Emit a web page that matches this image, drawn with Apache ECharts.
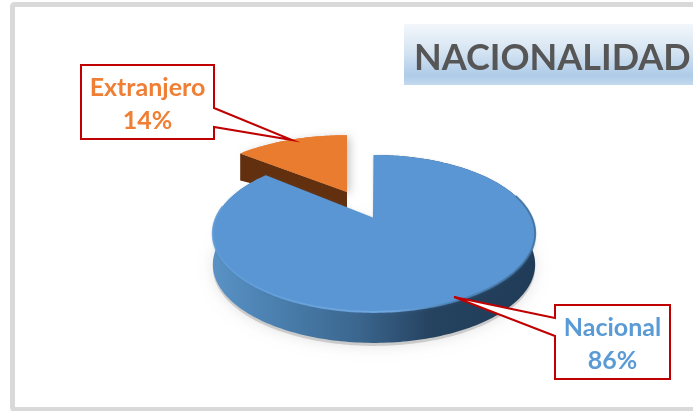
<!DOCTYPE html>
<html>
<head>
<meta charset="utf-8">
<style>html,body{margin:0;padding:0;background:#fff}#c{width:693px;height:411px}</style>
<script src="https://cdn.jsdelivr.net/npm/echarts@6/dist/echarts.min.js"></script>
</head>
<body>
<div id="c"></div>
<script>
const chartTitle = 'NACIONALIDAD';
const categories = ['Extranjero', 'Nacional'];
const values = [14, 86];
const textColors = ['#ef7f35', '#5b9bd5'];

const total = values.reduce((a, b) => a + b, 0);
const TWO_PI = Math.PI * 2;
// Angle span of each slice; the last slice starts at 12 o'clock, the first one ends there.
const spans = values.map(v => v / total * TWO_PI);
const angleRanges = [[-spans[0], 0], [0, spans[1]]];
const discs = [
  {x: 347, y: 192, f: 156, q: 68, d: 20},
  {x: 374, y: 218, f: 158, q: 75.4, d: 31}
];
const P = 0.197;

function proj(disc, t, depth) {
  const w = 1 + P * Math.cos(t);
  return [disc.x + disc.f * Math.sin(t) / w, disc.y - disc.q * Math.cos(t) / w + (depth || 0)];
}
function arc(disc, a, b, depth) {
  const n = Math.max(2, Math.ceil(Math.abs(b - a) / 0.02));
  const pts = [];
  for (let i = 0; i <= n; i++) pts.push(proj(disc, a + (b - a) * i / n, depth));
  return pts;
}
const poly = (pts, style, z2) => ({type: 'polygon', shape: {points: pts}, style, z2: z2 || 0, silent: true});
const hgrad = stops => ({type: 'linear', x: 0, y: 0, x2: 1, y2: 0,
  colorStops: stops.map(s => ({offset: s[0], color: s[1]}))});

function renderSlice(params, api) {
  const i = params.dataIndex;
  const disc = discs[i];
  const [a, b] = angleRanges[i];
  const apex = [disc.x, disc.y];
  const children = [];
  if (i === 0) {
    const corner = proj(disc, a);
    const cornerLow = proj(disc, a, disc.d * 1.35);
    children.push(poly([apex, corner].concat(arc(disc, a, b)),
      {fill: '#ea7c30', shadowBlur: 8, shadowColor: 'rgba(0,0,0,0.22)', shadowOffsetX: 3, shadowOffsetY: 2}));
    children.push(poly([apex, corner, cornerLow, [apex[0], apex[1] + disc.d * 0.8]], {fill: '#62300f'}));
    children.push(poly([apex, corner].concat(arc(disc, a, b)), {fill: '#ea7c30'}));
  } else {
    const top = arc(disc, a, b);
    const low = arc(disc, a, b, disc.d).reverse();
    // soft ground shadow, front part only so the notch stays white
    children.push(poly(arc(disc, Math.PI * 0.32, Math.PI * 1.62, disc.d + 3),
      {fill: 'rgba(120,120,120,0.3)', shadowBlur: 14, shadowColor: 'rgba(0,0,0,0.35)'}));
    children.push(poly(top.concat(low), {
      fill: hgrad([[0, '#5a92c6'], [0.2, '#4a7fae'], [0.45, '#3b668e'], [0.68, '#25425f'], [1, '#1f3b57']])
    }));
    children.push(poly([apex].concat(top), {
      fill: '#5996d3', shadowBlur: 3, shadowColor: 'rgba(60,110,160,0.5)', shadowOffsetY: 1
    }));
    children.push({
      type: 'polyline', silent: true,
      shape: {points: arc(disc, Math.PI * 0.4, Math.PI * 1.55)},
      style: {fill: 'none', lineWidth: 2, opacity: 0.85,
        stroke: hgrad([[0, '#5f9bd6'], [0.55, '#75aee6'], [0.72, '#4f86ba'], [1, '#3f6c98']])}
    });
    children.push({
      type: 'polyline', silent: true,
      shape: {points: [[apex[0] - 0.5, apex[1]], proj(disc, 0)]},
      style: {fill: 'none', lineWidth: 1, stroke: '#5a93c9'}
    });
  }
  return {type: 'group', children};
}

const callouts = [
  {box: [81, 65, 133, 74], pts: [[214, 108], [292, 140], [214, 127]], text: [147.5, 104]},
  {box: [555, 305, 115, 74], pts: [[555, 318], [454, 297], [555, 336]], text: [612.5, 344.5]}
];

function renderCallout(params, api) {
  const i = params.dataIndex;
  const c = callouts[i];
  const [x, y, w, h] = c.box;
  const isLeft = c.pts[0][0] === x + w;
  const pts = isLeft
    ? [[x, y], [x + w, y], c.pts[0], c.pts[1], c.pts[2], [x + w, y + h], [x, y + h]]
    : [[x, y], [x + w, y], [x + w, y + h], [x, y + h], c.pts[2], c.pts[1], c.pts[0]];
  return {
    type: 'group',
    children: [
      poly(pts, {fill: '#fff', stroke: '#c00000', lineWidth: 2, lineJoin: 'miter'}),
      {
        type: 'text', silent: true,
        style: {
          x: c.text[0], y: c.text[1],
          text: categories[i] + '\n' + api.value(0) + '%',
          align: 'center', verticalAlign: 'middle',
          font: 'bold 25px Lato', lineHeight: 33,
          fill: textColors[i]
        }
      }
    ]
  };
}

const chart = echarts.init(document.getElementById('c'), null, {renderer: 'canvas'});
chart.setOption({
  animation: false,
  backgroundColor: '#fff',
  title: {
    text: chartTitle, left: 409, top: 35,
    textStyle: {fontFamily: 'Lato', fontWeight: 'bold', fontSize: 36, color: '#565656'}
  },
  graphic: [
    {type: 'rect', z: -1, silent: true, shape: {x: 12.5, y: 4.5, width: 720, height: 405, r: 2},
     style: {fill: '#fff', stroke: '#d9d9d9', lineWidth: 5}},
    {type: 'rect', z: -1, silent: true, shape: {x: 404, y: 24, width: 289, height: 61},
     style: {fill: {type: 'linear', x: 0, y: 0, x2: 0, y2: 1, colorStops: [
       {offset: 0, color: '#f3f7fb'}, {offset: 0.45, color: '#d5e4f2'},
       {offset: 0.85, color: '#aecbe8'}, {offset: 1, color: '#c4d9ee'}]}}}
  ],
  series: [
    {type: 'custom', coordinateSystem: 'none', renderItem: renderSlice, silent: true, z: 2,
     data: values.map((v, i) => ({name: categories[i], value: [v]}))},
    {type: 'custom', coordinateSystem: 'none', renderItem: renderCallout, silent: true, z: 3,
     data: values.map((v, i) => ({name: categories[i], value: [v]}))}
  ]
});
</script>
</body>
</html>
